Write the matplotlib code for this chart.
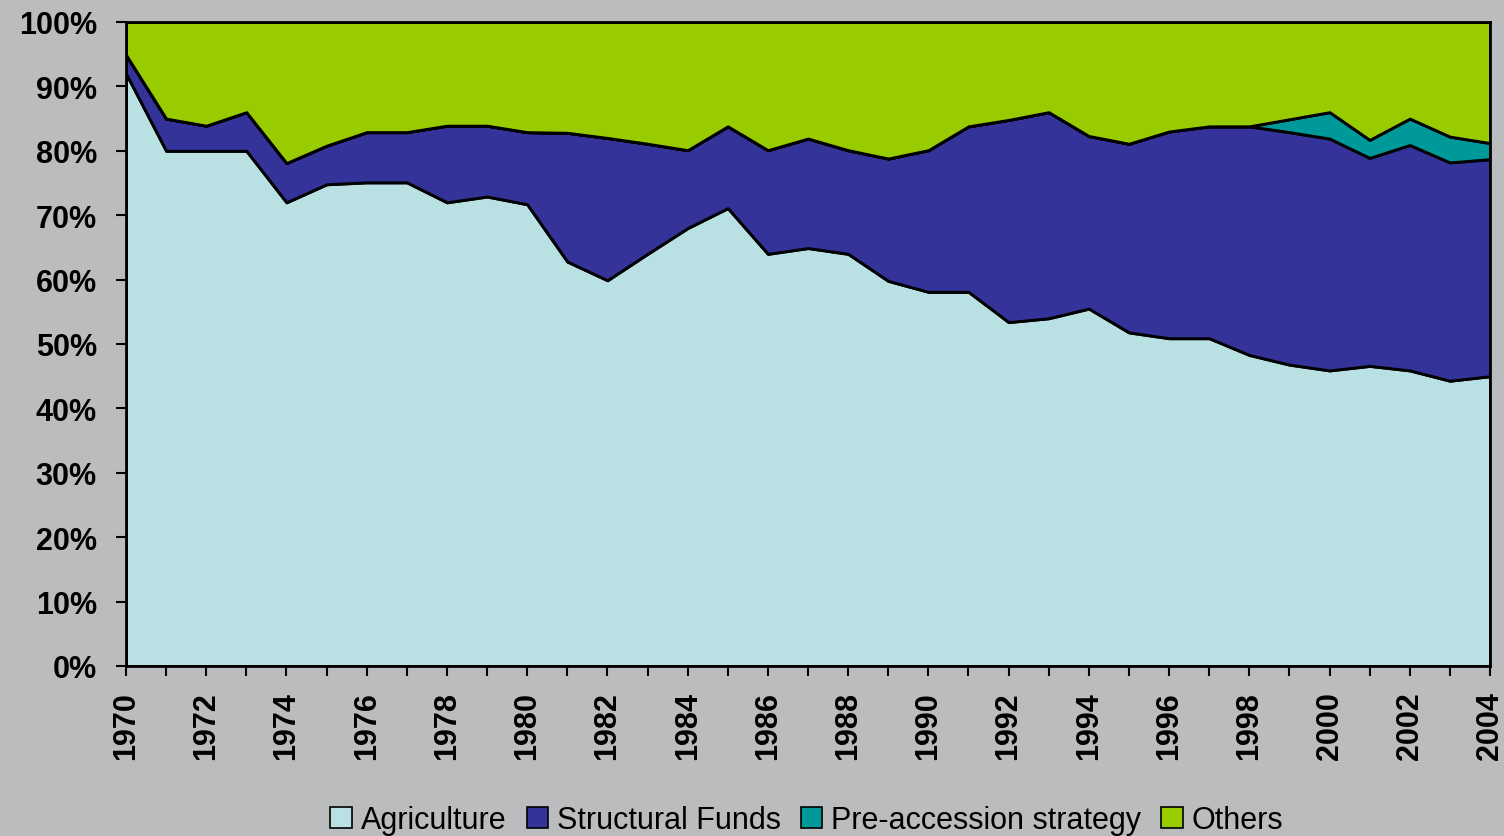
"""
    EU budget shares by heading, 1970-2004 (stacked area).
"""
import matplotlib
matplotlib.use('Agg')
import matplotlib.pyplot as plt
from matplotlib.ticker import PercentFormatter, MultipleLocator
from matplotlib.patches import Patch

plt.rcParams['font.family'] = ['Liberation Sans', 'DejaVu Sans']

years = list(range(1970, 2005))

agriculture = [92.0, 80.0, 80.0, 80.0, 72.0, 74.8, 75.1, 75.1, 72.0, 72.9,
               71.7, 62.8, 59.9, 64.0, 68.0, 71.1, 64.0, 64.9, 64.0, 59.8,
               58.1, 58.1, 53.4, 54.0, 55.5, 51.8, 50.9, 50.9, 48.3, 46.8,
               45.9, 46.6, 45.9, 44.3, 45.0]
structural = [2.9, 5.0, 3.9, 6.0, 6.1, 6.0, 7.8, 7.8, 11.9, 11.0,
              11.2, 20.0, 22.1, 17.1, 12.1, 12.7, 16.1, 17.0, 16.1, 19.0,
              22.0, 25.7, 31.4, 32.0, 26.8, 29.3, 32.1, 32.9, 35.5, 36.1,
              36.0, 32.3, 35.0, 33.9, 33.7]
pre_accession = [0, 0, 0, 0, 0, 0, 0, 0, 0, 0,
                 0, 0, 0, 0, 0, 0, 0, 0, 0, 0,
                 0, 0, 0, 0, 0, 0, 0, 0, 0, 2.0,
                 4.1, 2.8, 4.1, 4.0, 2.5]
others = [5.1, 15.0, 16.1, 14.0, 21.9, 19.2, 17.1, 17.1, 16.1, 16.1,
          17.1, 17.2, 18.0, 18.9, 19.9, 16.2, 19.9, 18.1, 19.9, 21.2,
          19.9, 16.2, 15.2, 14.0, 17.7, 18.9, 17.0, 16.2, 16.2, 15.1,
          14.0, 18.3, 15.0, 17.8, 18.8]

labels = ['Agriculture', 'Structural Funds', 'Pre-accession strategy', 'Others']
colors = ['#B9E0E3', '#333399', '#009999', '#99CC00']
bg = '#BBBCBE'

fig = plt.figure(figsize=(15.04, 8.37), dpi=100, facecolor=bg)
ax = fig.add_axes([126/1504, 1 - 667/837, (1490 - 126)/1504, (667 - 23)/837])
ax.set_facecolor(bg)

ax.stackplot(years, agriculture, structural, pre_accession, others,
             colors=colors, edgecolor='black', linewidth=2.1)

ax.set_xlim(1970, 2004)
ax.set_ylim(0, 100)
ax.yaxis.set_major_locator(MultipleLocator(10))
ax.yaxis.set_major_formatter(PercentFormatter(100, decimals=0))
ax.xaxis.set_major_locator(MultipleLocator(2))
ax.xaxis.set_minor_locator(MultipleLocator(1))

ax.tick_params(axis='y', length=7, width=1.5, pad=14, labelsize=22)
ax.tick_params(axis='x', which='both', length=7, width=1.5, pad=11, labelsize=22)
for lab in ax.get_yticklabels():
    lab.set_fontweight('bold')
for lab in ax.get_xticklabels():
    lab.set_fontweight('bold')
    lab.set_rotation(90)

for spine in ax.spines.values():
    spine.set_linewidth(2)
    spine.set_color('black')
    spine.set_zorder(5)

handles = [Patch(facecolor=c, edgecolor='black', linewidth=1.2) for c in colors]
fig.legend(handles, labels, loc='center', bbox_to_anchor=(807/1504, 0.019),
           ncol=4, frameon=False, fontsize=22, handlelength=0.7, handleheight=0.7,
           handletextpad=0.3, columnspacing=0.65, borderpad=0)

fig.savefig('out.png', dpi=100, facecolor=bg)
